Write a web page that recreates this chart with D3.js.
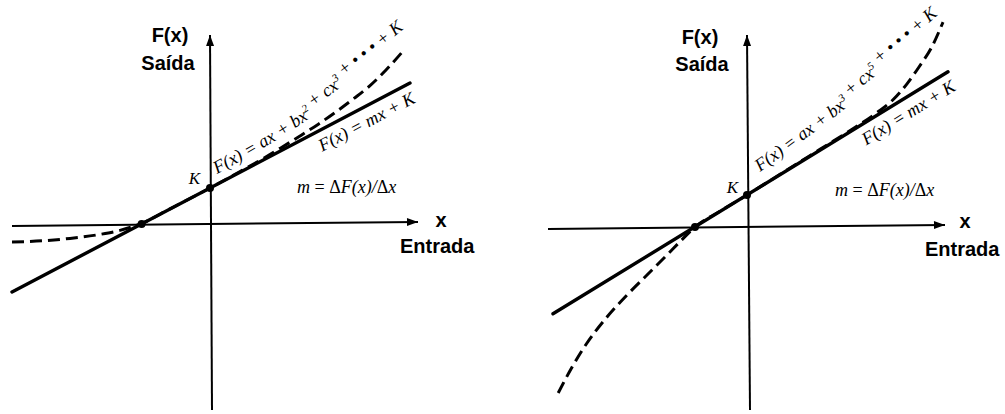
<!DOCTYPE html>
<html>
<head>
<meta charset="utf-8">
<script src="https://cdn.jsdelivr.net/npm/d3@7"></script>
<style>
  html, body { margin: 0; padding: 0; background: #fff; }
  svg { display: block; }
  .axis-title { font-family: "Liberation Sans", Arial, sans-serif; font-weight: bold; font-size: 20px; fill: #000; }
  .math { font-family: "Liberation Serif", "Times New Roman", serif; font-style: italic; fill: #000; }
  .up { font-style: normal; }
</style>
</head>
<body>
<svg id="chart" width="1005" height="414"></svg>
<script>
// ---- Left panel: F(x) = ax + bx^2 + cx^3 + ... + K against its linear part
const leftCurveX = [-4.95, -4.2, -3.5, -2.75, -2.25, -1.7, -1.0, 0, 0.8, 1.3, 1.75, 2.25, 2.7, 3.2, 3.6, 4.0, 4.4, 4.85];
const leftCurveY = [-0.45, -0.42, -0.36, -0.26, -0.16, 0.02, 0.38, 0.9, 1.34, 1.62, 1.89, 2.2, 2.49, 2.84, 3.14, 3.46, 3.85, 4.35];
const leftLineX = [-4.95, 5.0];
const leftLineY = [-1.70, 3.525];
const leftK = 0.9;
const leftRoot = -1.71;
const leftXAxis = [[-4.95, -0.05], [5.2, 0.05]];
const leftYAxis = [[0.05, -4.65], [0, 4.725]];
// baseline of the polynomial label (data units)
const leftPolyGuide = [[0.175, 1.25], [2.5, 2.65], [5.0, 4.55], [5.5, 5.0]];

// ---- Right panel: F(x) = ax + bx^3 + cx^5 + ... + K against its linear part
const rightCurveX = [-4.72, -4.4, -4.0, -3.5, -3.0, -2.5, -2.0, -1.65, -1.3, -0.65, 0, 0.75, 1.5, 2.4, 3.25, 3.65, 4.0, 4.3, 4.62, 4.9];
const rightCurveY = [-4.15, -3.55, -2.9, -2.25, -1.7, -1.2, -0.7, -0.34, 0.0, 0.41, 0.8, 1.27, 1.74, 2.3, 2.86, 3.18, 3.58, 4.0, 4.5, 5.12];
const rightLineX = [-4.85, 5.025];
const rightLineY = [-2.17, 3.88];
const rightK = 0.8;
const rightRoot = -1.3;
const rightXAxis = [[-4.975, -0.05], [4.95, 0.05]];
const rightYAxis = [[0.075, -4.575], [0, 4.8]];
const rightPolyGuide = [[0.325, 1.375], [2.575, 3.05], [4.9, 4.95], [5.4, 5.45]];

// Text of the two panels
const axisTitleY = ["F(x)", "Saída"];
const axisTitleX = ["x", "Entrada"];
const leftPoly = [["F(x) = ax + bx", ""], ["2", "sup"], [" + cx", ""], ["3", "sup"], [" + \u2022 \u2022 \u2022 + K", ""]];
const rightPoly = [["F(x) = ax + bx", ""], ["3", "sup"], [" + cx", ""], ["5", "sup"], [" + \u2022 \u2022 \u2022 + K", ""]];

const svg = d3.select("#chart");
svg.append("rect").attr("width", 1005).attr("height", 414).attr("fill", "#fff");

const x = d3.scaleLinear().domain([-5, 5]).range([0, 400]);
const y = d3.scaleLinear().domain([-5, 5]).range([400, 0]);

const line = d3.line().x(d => x(d[0])).y(d => y(d[1]));
const smooth = d3.line().x(d => x(d[0])).y(d => y(d[1])).curve(d3.curveMonotoneX);
const guideLine = d3.line().x(d => x(d[0])).y(d => y(d[1])).curve(d3.curveNatural);

function arrowHead(g, from, to) {
  const x0 = x(from[0]), y0 = y(from[1]), x1 = x(to[0]), y1 = y(to[1]);
  const a = Math.atan2(y1 - y0, x1 - x0);
  const L = 11, Wd = 4;
  const bx = x1 - L * Math.cos(a), by = y1 - L * Math.sin(a);
  const px = -Math.sin(a) * Wd, py = Math.cos(a) * Wd;
  g.append("path")
    .attr("d", `M${x1},${y1}L${bx + px},${by + py}L${bx - px},${by - py}Z`)
    .attr("fill", "#000");
}

function panel(cfg) {
  const g = svg.append("g").attr("transform", `translate(${cfg.tx},${cfg.ty})`);

  // axes
  g.append("path").attr("d", line(cfg.xAxis)).attr("stroke", "#000").attr("stroke-width", 2).attr("fill", "none");
  g.append("path").attr("d", line(cfg.yAxis)).attr("stroke", "#000").attr("stroke-width", 2).attr("fill", "none");
  arrowHead(g, cfg.xAxis[0], cfg.xAxis[1]);
  arrowHead(g, cfg.yAxis[0], cfg.yAxis[1]);

  // nonlinear curve (dashed)
  const pts = cfg.curveX.map((v, i) => [v, cfg.curveY[i]]);
  g.append("path").attr("d", smooth(pts))
    .attr("fill", "none").attr("stroke", "#000").attr("stroke-width", 3)
    .attr("stroke-dasharray", "12,6");

  // linear approximation (solid)
  const lp = cfg.lineX.map((v, i) => [v, cfg.lineY[i]]);
  g.append("path").attr("id", cfg.id + "-line").attr("d", line(lp))
    .attr("fill", "none").attr("stroke", "#000").attr("stroke-width", 3.4)
    .attr("stroke-linecap", "round");

  // intercept dots
  g.append("circle").attr("cx", x(0)).attr("cy", y(cfg.K)).attr("r", 4).attr("fill", "#000");
  g.append("circle").attr("cx", x(cfg.root)).attr("cy", y(0)).attr("r", 4).attr("fill", "#000");

  // polynomial label set on a gently bending baseline above the dashed curve
  g.append("path").attr("id", cfg.id + "-guide").attr("d", guideLine(cfg.guide))
    .attr("fill", "none").attr("stroke", "none");
  const poly = g.append("text").attr("class", "math").attr("font-size", 18)
    .append("textPath").attr("href", "#" + cfg.id + "-guide");
  cfg.poly.forEach(([s, kind]) => {
    if (kind === "sup") {
      poly.append("tspan").attr("font-size", 11).attr("dy", -7).text(s);
      poly.append("tspan").attr("dy", 7).text("");
    } else {
      poly.append("tspan").text(s);
    }
  });

  // linear label below the solid line
  g.append("text").attr("class", "math").attr("font-size", 18).attr("dy", 20)
    .append("textPath").attr("href", "#" + cfg.id + "-line").attr("startOffset", cfg.linOffset)
    .text("F(x) = mx + K");

  // K next to the vertical intercept
  g.append("text").attr("class", "math").attr("font-size", 17).attr("text-anchor", "end")
    .attr("x", x(cfg.kLabel[0])).attr("y", y(cfg.kLabel[1])).text("K");

  // slope definition
  const m = g.append("text").attr("class", "math").attr("font-size", 18)
    .attr("x", x(cfg.mLabel[0])).attr("y", y(cfg.mLabel[1]));
  m.append("tspan").text("m ");
  m.append("tspan").attr("class", "up").text("= \u0394");
  m.append("tspan").text("F(x)/");
  m.append("tspan").attr("class", "up").text("\u0394");
  m.append("tspan").text("x");

  // axis titles
  g.append("text").attr("class", "axis-title").attr("text-anchor", "middle")
    .attr("x", x(cfg.fTitle[0])).attr("y", y(cfg.fTitle[1])).text(axisTitleY[0]);
  g.append("text").attr("class", "axis-title").attr("text-anchor", "middle")
    .attr("x", x(cfg.sTitle[0])).attr("y", y(cfg.sTitle[1])).text(axisTitleY[1]);
  g.append("text").attr("class", "axis-title").attr("text-anchor", "middle")
    .attr("x", x(cfg.xTitle[0])).attr("y", y(cfg.xTitle[1])).text(axisTitleX[0]);
  g.append("text").attr("class", "axis-title").attr("text-anchor", "start")
    .attr("x", x(cfg.eTitle[0])).attr("y", y(cfg.eTitle[1])).text(axisTitleX[1]);
}

panel({
  id: "left", tx: 10, ty: 24,
  curveX: leftCurveX, curveY: leftCurveY, lineX: leftLineX, lineY: leftLineY,
  K: leftK, root: leftRoot, xAxis: leftXAxis, yAxis: leftYAxis,
  poly: leftPoly, guide: leftPolyGuide, linOffset: 340,
  kLabel: [-0.25, 1.0], mLabel: [2.175, 0.775],
  fTitle: [-1.0, 4.55], sTitle: [-1.05, 3.85], xTitle: [5.775, -0.075], eTitle: [4.75, -0.725]
});

panel({
  id: "right", tx: 547, ty: 27,
  curveX: rightCurveX, curveY: rightCurveY, lineX: rightLineX, lineY: rightLineY,
  K: rightK, root: rightRoot, xAxis: rightXAxis, yAxis: rightYAxis,
  poly: rightPoly, guide: rightPolyGuide, linOffset: 355,
  kLabel: [-0.225, 0.85], mLabel: [2.2, 0.775],
  fTitle: [-1.175, 4.575], sTitle: [-1.125, 3.9], xTitle: [5.45, -0.025], eTitle: [4.45, -0.725]
});
</script>
</body>
</html>
